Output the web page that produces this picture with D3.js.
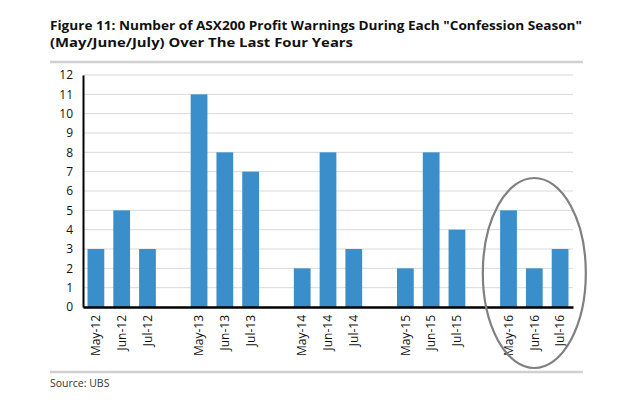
<!DOCTYPE html>
<html>
<head>
<meta charset="utf-8">
<script src="https://cdn.jsdelivr.net/npm/d3@7"></script>
<style>
  body { margin: 0; background: #fff; }
  text { font-family: "Open Sans", "Noto Sans", sans-serif; }
</style>
</head>
<body>
<svg id="chart" width="629" height="419"></svg>
<script>
const categories = ["May-12","Jun-12","Jul-12","gap1","May-13","Jun-13","Jul-13","gap2","May-14","Jun-14","Jul-14","gap3","May-15","Jun-15","Jul-15","gap4","May-16","Jun-16","Jul-16"];
const values = [3,5,3,null,11,8,7,null,2,8,3,null,2,8,4,null,5,2,3];
const yTicks = [0,1,2,3,4,5,6,7,8,9,10,11,12];
const titleLines = ["Figure 11: Number of ASX200 Profit Warnings During Each \"Confession Season\"", "(May/June/July) Over The Last Four Years"];
const sourceText = "Source: UBS";
const highlighted = ["May-16","Jun-16","Jul-16"];

(function () {
const svg = d3.select("#chart");
const pLeft = 83, pRight = 573, pTop = 75, pBottom = 307;

// title
const title = svg.append("g");
title.append("text").attr("x", 50).attr("y", 30).attr("font-size", 13).attr("font-weight", "bold").attr("fill", "#111")
  .attr("textLength", 532).attr("lengthAdjust", "spacingAndGlyphs").text(titleLines[0]);
title.append("text").attr("x", 50).attr("y", 47).attr("font-size", 13).attr("font-weight", "bold").attr("fill", "#111")
  .attr("textLength", 303).attr("lengthAdjust", "spacingAndGlyphs").text(titleLines[1]);

// separators
svg.append("line").attr("x1", 50).attr("x2", 583).attr("y1", 62).attr("y2", 62).attr("stroke", "#d0d0d0").attr("stroke-width", 2.5);
svg.append("line").attr("x1", 50).attr("x2", 583).attr("y1", 372).attr("y2", 372).attr("stroke", "#d0d0d0").attr("stroke-width", 2.5);

const x = d3.scaleBand().domain(categories).range([pLeft, pRight]).paddingInner(0.35).paddingOuter(0.175);
const y = d3.scaleLinear().domain([0, 12]).range([pBottom, pTop]);

// gridlines
svg.append("g").selectAll("line").data(yTicks.filter(d => d > 0)).join("line")
  .attr("x1", pLeft).attr("x2", pRight).attr("y1", d => y(d)).attr("y2", d => y(d))
  .attr("stroke", "#d9d9d9").attr("stroke-width", 1);

// bars
svg.append("g").selectAll("rect").data(categories.map((c, i) => ({c, v: values[i]})).filter(d => d.v != null)).join("rect")
  .attr("x", d => x(d.c)).attr("width", x.bandwidth())
  .attr("y", d => y(d.v)).attr("height", d => y(0) - y(d.v))
  .attr("fill", "#3a8fca");

// y axis
const yAxis = svg.append("g").attr("transform", `translate(${pLeft},0)`)
  .call(d3.axisLeft(y).tickValues(yTicks).tickSize(0).tickPadding(10));
yAxis.select(".domain").attr("stroke", "#000").attr("stroke-width", 2);
yAxis.selectAll("text").attr("font-size", 12).attr("fill", "#111").attr("font-family", "\"Open Sans\", sans-serif");

// x axis
const xAxis = svg.append("g").attr("transform", `translate(0,${pBottom})`)
  .call(d3.axisBottom(x).tickSize(0).tickFormat(d => d.startsWith("gap") ? "" : d));
xAxis.select(".domain").attr("stroke", "#000").attr("stroke-width", 2.5);
xAxis.selectAll("text")
  .attr("font-size", 12).attr("fill", "#111").attr("font-family", "\"Open Sans\", sans-serif")
  .attr("transform", "rotate(-90)").attr("text-anchor", "end")
  .attr("x", -8).attr("y", 0).attr("dy", "0.35em");

// highlight ellipse
const hx0 = x(highlighted[0]), hx1 = x(highlighted[2]) + x.bandwidth();
svg.append("ellipse")
  .attr("cx", (hx0 + hx1) / 2).attr("cy", 273).attr("rx", 51.5).attr("ry", 95)
  .attr("fill", "none").attr("stroke", "#808080").attr("stroke-width", 2.2);

// source
svg.append("text").attr("x", 50).attr("y", 387).attr("font-size", 10.5).attr("fill", "#333").text(sourceText);
})();
</script>
</body>
</html>
